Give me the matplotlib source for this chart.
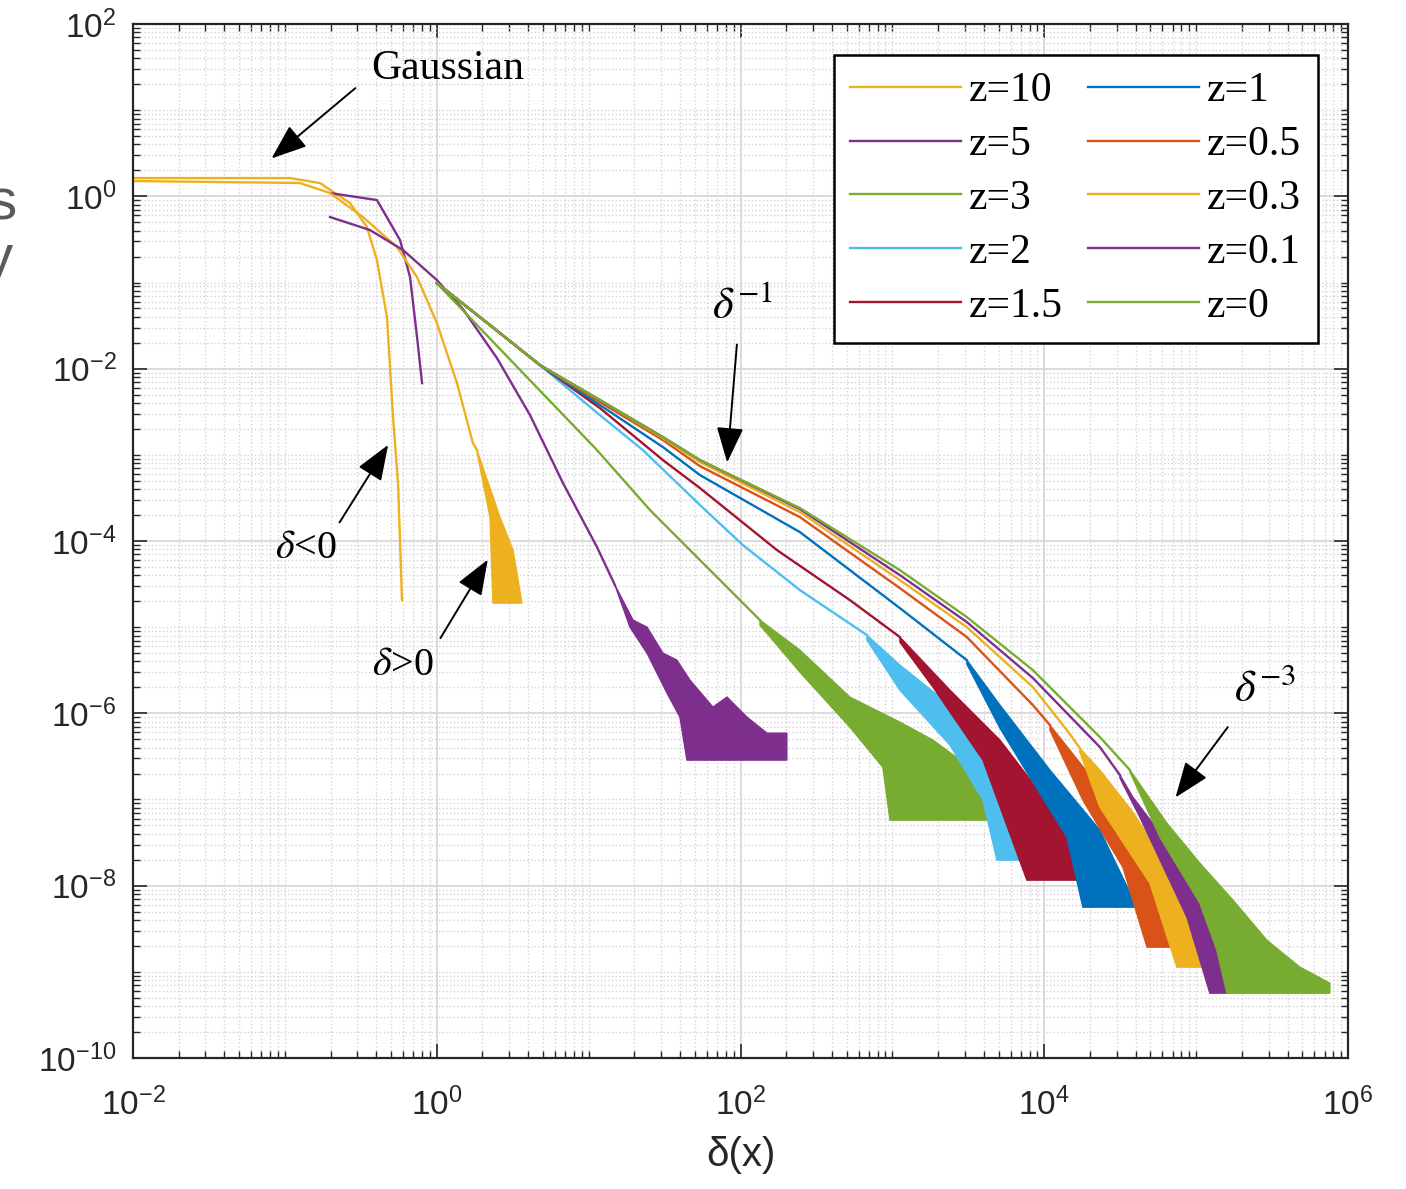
import numpy as np
import matplotlib
matplotlib.use("Agg")
import matplotlib.pyplot as plt
from matplotlib.ticker import LogLocator, NullFormatter

plt.rcParams["font.family"] = ["Liberation Sans", "DejaVu Sans"]
plt.rcParams["mathtext.fontset"] = "custom"
plt.rcParams["mathtext.rm"] = "Liberation Sans"
plt.rcParams["mathtext.it"] = "Liberation Sans:italic"

# values, stored as log10(delta) and log10(pdf)
# z=10, Gaussian limit: delta<0 and delta>0 branches
z10_neg_lx = [-2.0, -0.966, -0.769, -0.571, -0.460, -0.394, -0.328, -0.288, -0.255, -0.229]
z10_neg_ly = [0.212, 0.212, 0.154, -0.078, -0.356, -0.739, -1.401, -2.562, -3.328, -4.686]
z10_lx = [-2.0, -0.901, -0.703, -0.486, -0.262, -0.130, 0.001, 0.133, 0.238, 0.265]
z10_ly = [0.178, 0.155, 0.038, -0.240, -0.589, -0.937, -1.471, -2.167, -2.864, -2.945]
z10_hi = ([0.265, 0.416, 0.502, 0.561], [-2.945, -3.723, -4.106, -4.721])
z10_lo = ([0.265, 0.350, 0.370, 0.561], [-2.968, -3.723, -4.721, -4.721])

# z=5
z5_neg_lx = [-0.703, -0.394, -0.242, -0.176, -0.130, -0.097]
z5_neg_ly = [0.038, -0.043, -0.507, -0.937, -1.633, -2.167]
z5_lx = [-0.703, -0.440, -0.222, 0.001, 0.172, 0.396, 0.614, 0.831, 1.055, 1.173]
z5_ly = [-0.240, -0.391, -0.623, -0.972, -1.308, -1.877, -2.539, -3.328, -4.071, -4.512]
z5_hi = ([1.173, 1.292, 1.384, 1.489, 1.581, 1.667, 1.818, 1.911, 2.042, 2.174, 2.305],
         [-4.512, -4.918, -5.0, -5.301, -5.383, -5.615, -5.928, -5.812, -6.044, -6.230, -6.230])
z5_lo = ([1.173, 1.272, 1.384, 1.516, 1.601, 1.647, 2.305],
         [-4.512, -5.0, -5.301, -5.766, -6.044, -6.543, -6.543])

# z=3
z3_lx = [0.0, 0.416, 1.055, 1.404, 1.733, 2.128]
z3_ly = [-1.006, -1.772, -2.945, -3.641, -4.222, -4.918]
z3_hi = ([2.128, 2.391, 2.720, 3.049, 3.267, 3.490, 3.622, 3.642],
         [-4.918, -5.266, -5.812, -6.102, -6.311, -6.601, -7.007, -7.240])
z3_lo = ([2.128, 2.391, 2.720, 2.937, 2.984, 3.642],
         [-4.976, -5.522, -6.160, -6.625, -7.240, -7.240])

# z=2
z2_lx = [0.0, 0.350, 0.679, 1.074, 1.357, 1.733, 2.016, 2.391, 2.832]
z2_ly = [-1.006, -1.494, -1.958, -2.539, -2.945, -3.583, -4.048, -4.570, -5.092]
z2_hi = ([2.832, 3.049, 3.379, 3.642, 3.773, 3.905], [-5.092, -5.440, -5.905, -6.659, -7.205, -7.704])
z2_lo = ([2.832, 3.049, 3.379, 3.596, 3.688, 3.905], [-5.150, -5.731, -6.369, -7.007, -7.704, -7.704])

# z=1.5
z15_lx = [0.0, 0.350, 0.679, 1.074, 1.489, 1.733, 2.240, 2.720, 3.049]
z15_ly = [-1.006, -1.494, -1.958, -2.457, -3.061, -3.386, -4.106, -4.686, -5.115]
z15_hi = ([3.049, 3.379, 3.708, 3.925, 4.149, 4.234], [-5.115, -5.731, -6.311, -6.810, -7.437, -7.936])
z15_lo = ([3.049, 3.267, 3.596, 3.885, 4.234], [-5.174, -5.696, -6.543, -7.936, -7.936])

# z=1
z1_lx = [0.0, 0.350, 0.679, 1.074, 1.489, 1.733, 2.391, 3.049, 3.490]
z1_ly = [-1.006, -1.494, -1.958, -2.422, -2.910, -3.235, -3.897, -4.779, -5.383]
z1_hi = ([3.490, 3.708, 4.037, 4.366, 4.610], [-5.383, -5.905, -6.659, -7.356, -8.250])
z1_lo = ([3.490, 3.708, 3.925, 4.149, 4.254, 4.610], [-5.429, -6.172, -6.799, -7.437, -8.250, -8.250])

# z=0.5
z05_lx = [0.0, 0.350, 0.679, 1.074, 1.489, 1.733, 2.391, 3.049, 3.490, 3.925, 4.037]
z05_ly = [-1.006, -1.494, -1.958, -2.388, -2.829, -3.131, -3.723, -4.547, -5.115, -5.905, -6.137]
z05_hi = ([4.037, 4.366, 4.695, 4.873], [-6.137, -6.868, -7.739, -8.714])
z05_lo = ([4.037, 4.254, 4.517, 4.676, 4.873], [-6.195, -7.007, -7.785, -8.714, -8.714])

# z=0.3
z03_lx = [0.0, 0.350, 0.679, 1.074, 1.489, 1.733, 2.391, 3.049, 3.490, 3.925, 4.149, 4.234]
z03_ly = [-1.006, -1.494, -1.958, -2.364, -2.806, -3.084, -3.665, -4.454, -5.000, -5.696, -6.195, -6.404]
z03_hi = ([4.234, 4.366, 4.583, 4.912, 5.044], [-6.404, -6.659, -7.147, -8.052, -8.946])
z03_lo = ([4.234, 4.366, 4.695, 4.873, 5.044], [-6.450, -7.089, -7.971, -8.946, -8.946])

# z=0.1
z01_lx = [0.0, 0.350, 0.679, 1.074, 1.489, 1.733, 2.391, 3.049, 3.490, 3.925, 4.366, 4.498]
z01_ly = [-1.006, -1.494, -1.958, -2.364, -2.794, -3.061, -3.630, -4.396, -4.941, -5.591, -6.392, -6.717]
z01_hi = ([4.498, 4.583, 4.912, 5.136, 5.222], [-6.717, -6.973, -7.739, -8.516, -9.248])
z01_lo = ([4.498, 4.629, 4.939, 5.090, 5.222], [-6.752, -7.205, -8.366, -9.248, -9.248])

# z=0
z0_lx = [0.0, 0.350, 0.679, 1.074, 1.489, 1.733, 2.391, 3.049, 3.490, 3.925, 4.366, 4.564]
z0_ly = [-1.006, -1.494, -1.958, -2.364, -2.794, -3.061, -3.618, -4.338, -4.883, -5.499, -6.276, -6.659]
z0_hi = ([4.564, 4.807, 5.024, 5.242, 5.465, 5.683, 5.880], [-6.659, -7.275, -7.739, -8.168, -8.633, -8.946, -9.132])
z0_lo = ([4.564, 4.761, 5.024, 5.136, 5.202, 5.880], [-6.682, -7.437, -8.203, -8.749, -9.248, -9.248])

labels = ["z=10", "z=5", "z=3", "z=2", "z=1.5", "z=1", "z=0.5", "z=0.3", "z=0.1", "z=0"]
colors = ["#EDB120", "#7E2F8E", "#77AC30", "#4DBEEE", "#A2142F",
          "#0072BD", "#D95319", "#EDB120", "#7E2F8E", "#77AC30"]
series = [
    (z10_lx, z10_ly, z10_hi, z10_lo),
    (z5_lx, z5_ly, z5_hi, z5_lo),
    (z3_lx, z3_ly, z3_hi, z3_lo),
    (z2_lx, z2_ly, z2_hi, z2_lo),
    (z15_lx, z15_ly, z15_hi, z15_lo),
    (z1_lx, z1_ly, z1_hi, z1_lo),
    (z05_lx, z05_ly, z05_hi, z05_lo),
    (z03_lx, z03_ly, z03_hi, z03_lo),
    (z01_lx, z01_ly, z01_hi, z01_lo),
    (z0_lx, z0_ly, z0_hi, z0_lo),
]


def p10(v):
    return 10.0 ** np.asarray(v, dtype=float)


fig = plt.figure(figsize=(14.06, 11.89), dpi=100)
ax = fig.add_axes([0.0946, 0.1102, 0.8642, 0.8696])
ax.set_xscale("log")
ax.set_yscale("log")

lw = 1.7
ax.plot(p10(z10_neg_lx), p10(z10_neg_ly), color=colors[0], lw=lw)
ax.plot(p10(z5_neg_lx), p10(z5_neg_ly), color=colors[1], lw=lw)
handles = []
for (lx, ly, hi, lo), lab, c in zip(series, labels, colors):
    (h,) = ax.plot(p10(lx), p10(ly), color=c, lw=lw, label=lab)
    handles.append(h)
    # noisy tail drawn as a filled band between its outer edges
    px = np.concatenate([hi[0], lo[0][::-1]])
    py = np.concatenate([hi[1], lo[1][::-1]])
    ax.fill(p10(px), p10(py), color=c, lw=1.0, ec=c)

ax.set_xlim(1e-2, 1e6)
ax.set_ylim(1e-10, 1e2)
ax.set_xticks([1e-2, 1e0, 1e2, 1e4, 1e6])
ax.set_yticks([1e-10, 1e-8, 1e-6, 1e-4, 1e-2, 1e0, 1e2])
for axis in (ax.xaxis, ax.yaxis):
    axis.set_minor_locator(LogLocator(base=10, subs=np.arange(1, 10), numticks=100))
    axis.set_minor_formatter(NullFormatter())

axc = "#262626"
ax.tick_params(which="both", direction="in", top=True, right=True, colors=axc,
               labelsize=24, labelcolor=axc)
ax.tick_params(which="major", length=10, width=1.2)
ax.tick_params(which="minor", length=5, width=1.0)
ax.tick_params(axis="x", pad=21)
ax.tick_params(axis="y", pad=12)
for s in ax.spines.values():
    s.set_color(axc)
    s.set_linewidth(1.6)

ax.grid(True, which="major", color="#d8d8d8", lw=1.3, ls="-")
ax.grid(True, which="minor", color="#d4d4d4", lw=1.0, ls=":")
ax.set_axisbelow(True)

ax.set_xlabel("δ(x)", fontsize=29, color=axc, labelpad=10)

leg = ax.legend(handles=handles, ncol=2, loc="upper right", bbox_to_anchor=(0.975, 0.970),
                borderaxespad=0, fancybox=False, framealpha=1, edgecolor="black",
                prop={"family": "Liberation Serif", "size": 30},
                handlelength=2.65, handletextpad=0.2, columnspacing=0.6,
                labelspacing=0.37, borderpad=0.4)
leg.get_frame().set_linewidth(1.8)

serif = "Liberation Serif"
ax.text(0.259, 0.957, "Gaussian", transform=ax.transAxes, ha="center", va="center",
        fontsize=30, family=serif)
ax.text(0.142, 0.493, r"$\delta$<0", transform=ax.transAxes, ha="center", va="center",
        fontsize=29, family=serif, math_fontfamily="stix")
ax.text(0.222, 0.380, r"$\delta$>0", transform=ax.transAxes, ha="center", va="center",
        fontsize=29, family=serif, math_fontfamily="stix")
ax.text(0.502, 0.727, r"$\delta^{-1}$", transform=ax.transAxes, ha="center", va="center",
        fontsize=32, family=serif, math_fontfamily="stix")
ax.text(0.932, 0.356, r"$\delta^{-3}$", transform=ax.transAxes, ha="center", va="center",
        fontsize=32, family=serif, math_fontfamily="stix")

arrows = [
    ((0.183, 0.938), (0.114, 0.870)),
    ((0.170, 0.518), (0.210, 0.593)),
    ((0.253, 0.406), (0.292, 0.482)),
    ((0.497, 0.690), (0.489, 0.576)),
    ((0.901, 0.320), (0.858, 0.252)),
]
for tail, head in arrows:
    ax.annotate("", xy=head, xytext=tail, xycoords="axes fraction", textcoords="axes fraction",
                arrowprops=dict(arrowstyle="-|>,head_length=1.1,head_width=0.42", mutation_scale=20,
                                color="black", lw=1.4, shrinkA=0, shrinkB=0))

# fragments of neighbouring text cut off by the screenshot edge, as in the source
fig.text(17 / 1406, 1 - 220 / 1189, "s", ha="right", va="baseline", fontsize=42, color="#5a5a5a")
fig.text(13 / 1406, 1 - 275 / 1189, "y", ha="right", va="baseline", fontsize=42, color="#5a5a5a")

fig.savefig("out.png", dpi=100)
